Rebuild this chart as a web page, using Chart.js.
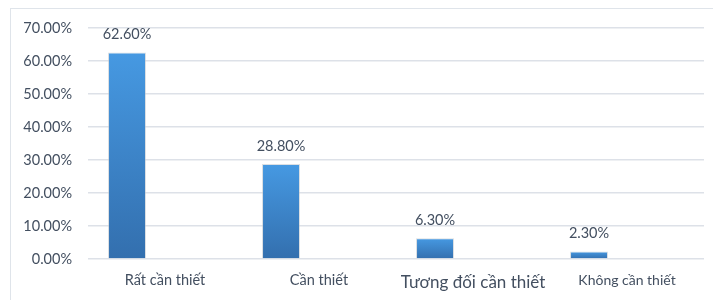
<!DOCTYPE html>
<html>
<head>
<meta charset="utf-8">
<script src="https://cdn.jsdelivr.net/npm/chart.js@4"></script>
<style>
    html, body { margin: 0; padding: 0; background: #ffffff; }
    #wrap { position: relative; width: 713px; height: 300px; overflow: hidden; }
    #frame {
        position: absolute; left: 10px; top: 8px;
        width: 740px; height: 320px;
        border: 1px solid #dfe4ea;
    }
    canvas { position: absolute; left: 0; top: 0; }
</style>
</head>
<body>
<div id="wrap">
    <div id="frame"></div>
    <canvas id="chart" width="713" height="300"></canvas>
</div>
<script>
const categories = ["Rất cần thiết", "Cần thiết", "Tương đối cần thiết", "Không cần thiết"];
const values = [62.6, 28.8, 6.3, 2.3];
const yTicks = [0, 10, 20, 30, 40, 50, 60, 70];
// the source sheet had two more (empty) series, so each bar sits left in its group
const emptySeriesA = [];
const emptySeriesB = [];

const textColor = "#434f60";
const labelSizes = [14.5, 14.5, 17, 14];

// per-bar vertical gradient
function barFill(context) {
    const chart = context.chart;
    const el = context.element;
    if (!chart.chartArea || !el) return "#3f86cf";
    const y = chart.scales.y;
    const v = context.raw;
    const top = y.getPixelForValue(v);
    const base = y.getPixelForValue(0);
    if (!isFinite(top) || top === base) return "#3f86cf";
    const g = chart.ctx.createLinearGradient(0, top, 0, base);
    g.addColorStop(0, "#4699e2");
    g.addColorStop(1, "#336fae");
    return g;
}

const valueLabels = {
    id: "valueLabels",
    afterDatasetsDraw(chart) {
        const ctx = chart.ctx;
        const meta = chart.getDatasetMeta(0);
        ctx.save();
        ctx.font = "14.5px Lato";
        ctx.fillStyle = textColor;
        ctx.textAlign = "center";
        ctx.textBaseline = "middle";
        meta.data.forEach((bar, i) => {
            ctx.fillText(values[i].toFixed(2) + "%", bar.x, bar.y - 18);
        });
        ctx.restore();
    }
};

new Chart(document.getElementById("chart"), {
    type: "bar",
    data: {
        labels: categories,
        datasets: [
            {
                label: "Tỷ lệ",
                data: values,
                backgroundColor: barFill,
                borderColor: "rgba(190,196,204,0.55)",
                borderWidth: 1,
                borderSkipped: "bottom"
            },
            { label: "", data: emptySeriesA },
            { label: "", data: emptySeriesB }
        ]
    },
    options: {
        responsive: false,
        animation: false,
        devicePixelRatio: 1,
        categoryPercentage: 0.74,
        barPercentage: 1,
        layout: {
            padding: { left: 10, right: 9, top: 28, bottom: 0 }
        },
        plugins: {
            legend: { display: false },
            tooltip: { enabled: false }
        },
        scales: {
            x: {
                grid: { display: false, drawTicks: false },
                border: { display: false },
                ticks: {
                    padding: 13,
                    color: textColor,
                    font: (c) => ({ family: "Lato", size: labelSizes[c.index] || 14 })
                },
                afterFit: (s) => { s.height = 41; }
            },
            y: {
                min: 0,
                max: 70,
                afterBuildTicks: (s) => { s.ticks = yTicks.map(v => ({ value: v })); },
                grid: { color: "#dde1e8", lineWidth: 1.5, drawTicks: false },
                border: { display: false },
                ticks: {
                    padding: 16,
                    color: textColor,
                    font: { family: "Lato", size: 14.5 },
                    callback: (v) => v.toFixed(2) + "%"
                },
                afterFit: (s) => { s.width = 78; }
            }
        }
    },
    plugins: [valueLabels]
});
</script>
</body>
</html>
